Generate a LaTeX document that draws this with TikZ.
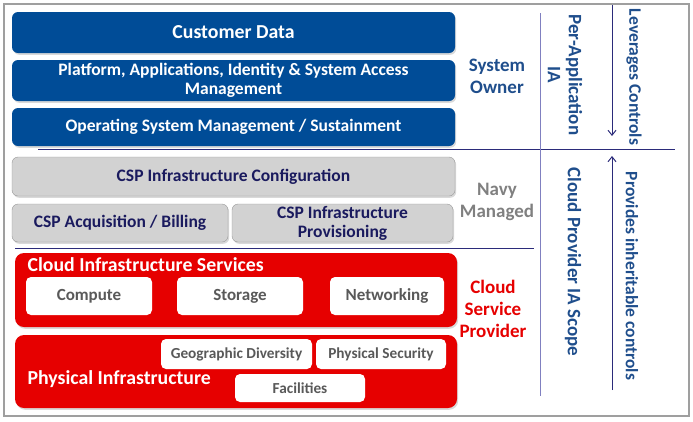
\documentclass[tikz,border=0pt]{standalone}
\usepackage{fontspec}
\setmainfont{Carlito}
\usetikzlibrary{arrows.meta,shadows}
\definecolor{ownerblue}{HTML}{004C97}
\definecolor{labelblue}{HTML}{1F4E8C}
\definecolor{navyline}{HTML}{2B2B7A}
\definecolor{lavline}{HTML}{8080C0}
\definecolor{navytext}{HTML}{1A1A5E}
\definecolor{boxgray}{HTML}{D2D2D2}
\definecolor{cspred}{HTML}{E60000}
\tikzset{
	layer/.style={rounded corners=6pt, inner sep=0pt, align=center, font=\bfseries,
		drop shadow={opacity=0.3, shadow xshift=1.2pt, shadow yshift=-1.8pt}},
	bluebox/.style={layer, fill=ownerblue, text=white},
	graybox/.style={layer, fill=boxgray, draw=gray!80, text=navytext},
	redbox/.style={layer, fill=cspred, rounded corners=9pt},
	whitebox/.style={rounded corners=5pt, fill=white, inner sep=0pt, text=black!65, font=\bfseries},
	sidelabel/.style={align=center, font=\fontsize{19}{22}\selectfont\bfseries},
	scopelabel/.style={align=center, rotate=-90, text=labelblue, font=\fontsize{19}{21}\selectfont\bfseries},
	ctrllabel/.style={rotate=-90, text=labelblue, font=\fontsize{17.5}{20}\selectfont\bfseries},
	ctrlarrow/.style={draw=navyline, line width=1pt, -{Straight Barb[length=5pt,width=8pt]}}
}
\begin{document}
\begin{tikzpicture}[x=1pt,y=-1pt]
		\useasboundingbox (0,0) rectangle (693,421);
		\draw[gray!75, line width=1.6pt] (4,4) rectangle (689,416);

		\node[bluebox, minimum width=443, minimum height=41, font=\fontsize{19.8}{22}\selectfont\bfseries] (data) at (233.5,32.5) {Customer Data};
		\node[bluebox, minimum width=443, minimum height=41, font=\fontsize{17.5}{19}\selectfont\bfseries] (platform) at (233.5,80.5) {Platform, Applications, Identity \& System Access\\Management};
		\node[bluebox, minimum width=443, minimum height=38, font=\fontsize{17.5}{19}\selectfont\bfseries] (os) at (233.5,127) {Operating System Management / Sustainment};

		\node[graybox, minimum width=443, minimum height=39, font=\fontsize{17.5}{19}\selectfont\bfseries] (config) at (233.5,176.5) {CSP Infrastructure Configuration};
		\node[graybox, minimum width=216, minimum height=38, font=\fontsize{17.5}{19}\selectfont\bfseries] (billing) at (120,223) {CSP Acquisition / Billing};
		\node[graybox, minimum width=221, minimum height=38, font=\fontsize{17.5}{19}\selectfont\bfseries] (prov) at (342.5,223) {CSP Infrastructure\\Provisioning};

		\node[redbox, minimum width=442, minimum height=74] (services) at (236,290) {};
		\node[anchor=west, text=white, font=\fontsize{19.8}{22}\selectfont\bfseries] (servtitle) at (24,265) {Cloud Infrastructure Services};
		\node[whitebox, minimum width=126, minimum height=38, font=\fontsize{17}{19}\selectfont\bfseries] (compute) at (89,296) {Compute};
		\node[whitebox, minimum width=126, minimum height=38, font=\fontsize{17}{19}\selectfont\bfseries] (storage) at (240,296) {Storage};
		\node[whitebox, minimum width=114, minimum height=38, font=\fontsize{17}{19}\selectfont\bfseries] (network) at (387,296) {Networking};

		\node[redbox, minimum width=442, minimum height=73] (physical) at (236,371.5) {};
		\node[anchor=west, text=white, font=\fontsize{19.8}{22}\selectfont\bfseries] (phystitle) at (24,379) {Physical Infrastructure};
		\node[whitebox, minimum width=151, minimum height=30, font=\fontsize{15.3}{17}\selectfont\bfseries] (geo) at (236.5,354) {Geographic Diversity};
		\node[whitebox, minimum width=130, minimum height=30, font=\fontsize{15.3}{17}\selectfont\bfseries] (security) at (381,354) {Physical Security};
		\node[whitebox, minimum width=130, minimum height=28, font=\fontsize{15.3}{17}\selectfont\bfseries] (facilities) at (300,388) {Facilities};

		\coordinate (split1w) at (38,149.5);
		\coordinate (split1e) at (675,149.5);
		\coordinate (split2w) at (15,248);
		\coordinate (split2e) at (534,248);
		\coordinate (scopen) at (540,13);
		\coordinate (scopes) at (540,396);
		\draw[navyline, line width=0.9pt] (split1w) -- (split1e);
		\draw[navyline, line width=0.9pt] (split2w) -- (split2e);
		\draw[lavline, line width=0.9pt] (scopen) -- (scopes);

		\node[sidelabel, text=labelblue] (owner) at (497,76) {System\\Owner};
		\node[sidelabel, text=gray] (navy) at (497,202) {Navy\\Managed};
		\node[sidelabel, text=cspred] (csp) at (493,309) {Cloud\\Service\\Provider};

		\node[scopelabel] (perapp) at (565,75) {Per-Application\\IA};
		\node[scopelabel] (cpscope) at (573,262) {Cloud Provider IA Scope};

		\coordinate (levtop) at (612,5);
		\coordinate (levbot) at (612,136);
		\coordinate (provbot) at (612,390);
		\coordinate (provtop) at (612,156);
		\draw[ctrlarrow] (levtop) -- (levbot);
		\draw[ctrlarrow] (provbot) -- (provtop);
		\node[ctrllabel] (leverages) at (634,77) {Leverages Controls};
		\node[ctrllabel] (provides) at (632,276) {Provides inheritable controls};

	\end{tikzpicture}
\end{document}
